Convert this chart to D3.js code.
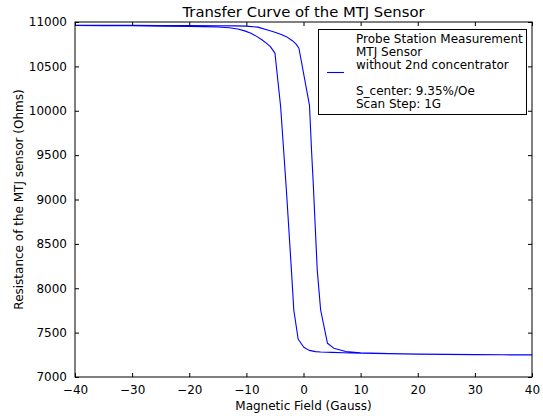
<!DOCTYPE html>
<html>
<head>
<meta charset="utf-8">
<script src="https://cdn.jsdelivr.net/npm/d3@7"></script>
<style>
  html, body { margin: 0; padding: 0; background: #fff; }
  svg { display: block; font-family: "DejaVu Sans", sans-serif; }
</style>
</head>
<body>
<svg id="chart" width="543" height="416"></svg>
<script>
// ---- Data ----
// Sweep up: field increasing from -40 G to +40 G (switches at positive field)
const fieldUp = [-40, -35, -30, -25, -20, -15, -12, -10, -8, -6, -5, -4, -3, -2, -1.3, -0.8,
                 1.05, 1.4, 1.7, 2.4, 3.0, 4.2, 5.3, 7.4, 10, 15, 20, 25, 30, 35, 40];
const resUp   = [10962, 10962, 10962, 10961, 10960, 10958, 10956, 10954, 10942, 10905, 10885, 10862, 10835, 10792, 10750, 10704,
                 10060, 9560, 9190, 8210, 7755, 7380, 7325, 7287, 7272, 7265, 7260, 7256, 7253, 7251, 7250];
// Sweep down: field decreasing from +40 G to -40 G (switches at negative field)
const fieldDown = [40, 35, 30, 25, 20, 15, 10, 7, 5, 3, 2.1, 1, 0.05, -0.93, -1.7, -2.1, -3.0, -4.0, -5.0,
                   -5.8, -6.5, -7.3, -8.2, -9.2, -10.3, -11.5, -13, -15, -20, -25, -30, -35, -40];
const resDown   = [7248, 7250, 7252, 7255, 7258, 7262, 7268, 7274, 7278, 7282, 7286, 7300, 7335, 7425, 7755, 8190, 9110, 10045, 10650,
                   10722, 10762, 10800, 10838, 10872, 10900, 10921, 10935, 10944, 10950, 10954, 10957, 10959, 10961];

const xTicks = [-40, -30, -20, -10, 0, 10, 20, 30, 40];
const yTicks = [7000, 7500, 8000, 8500, 9000, 9500, 10000, 10500, 11000];
const titleText = "Transfer Curve of the MTJ Sensor";
const xLabel = "Magnetic Field (Gauss)";
const yLabel = "Resistance of the MTJ sensor (Ohms)";
const legendLines = ["Probe Station Measurement", "MTJ Sensor", "without 2nd concentrator", "", "S_center: 9.35%/Oe", "Scan Step: 1G"];

// ---- Layout ----
const W = 543, H = 416;
const m = { left: 75, right: 532, top: 22, bottom: 377 };
const svg = d3.select("#chart");

const x = d3.scaleLinear().domain([-40, 40]).range([m.left, m.right]);
const y = d3.scaleLinear().domain([7000, 11000]).range([m.bottom, m.top]);

// Combined loop path
const pts = fieldUp.map((f, i) => [f, resUp[i]]).concat(fieldDown.map((f, i) => [f, resDown[i]]));

const clipId = "plotclip";
svg.append("clipPath").attr("id", clipId)
  .append("rect").attr("x", m.left).attr("y", m.top)
  .attr("width", m.right - m.left).attr("height", m.bottom - m.top);

const line = d3.line().x(d => x(d[0])).y(d => y(d[1]));
svg.append("path")
  .datum(pts)
  .attr("clip-path", `url(#${clipId})`)
  .attr("fill", "none")
  .attr("stroke", "#0000ff")
  .attr("stroke-width", 1.1)
  .attr("stroke-linejoin", "round")
  .attr("d", line);

// Axes with ticks inside on all four sides
const tickLen = 4;
const axB = d3.axisBottom(x).tickValues(xTicks).tickSizeInner(-tickLen).tickSizeOuter(0).tickPadding(8).tickFormat(d => d3.format("d")(d).replace("-", "\u2212"));
const axT = d3.axisTop(x).tickValues(xTicks).tickSizeInner(-tickLen).tickSizeOuter(0).tickFormat("");
const axL = d3.axisLeft(y).tickValues(yTicks).tickSizeInner(-tickLen).tickSizeOuter(0).tickPadding(8).tickFormat(d3.format("d"));
const axR = d3.axisRight(y).tickValues(yTicks).tickSizeInner(-tickLen).tickSizeOuter(0).tickFormat("");

function styleAxis(g) {
  g.select(".domain").remove();
  g.selectAll(".tick line").attr("stroke", "#000").attr("stroke-width", 1);
  g.selectAll(".tick text").attr("fill", "#000").style("font-size", "12px").style("font-family", "DejaVu Sans");
}
svg.append("g").attr("transform", `translate(0,${m.bottom})`).call(axB).call(styleAxis);
svg.append("g").attr("transform", `translate(0,${m.top})`).call(axT).call(styleAxis);
svg.append("g").attr("transform", `translate(${m.left},0)`).call(axL).call(styleAxis);
svg.append("g").attr("transform", `translate(${m.right},0)`).call(axR).call(styleAxis);

// Frame
svg.append("rect")
  .attr("x", m.left).attr("y", m.top)
  .attr("width", m.right - m.left).attr("height", m.bottom - m.top)
  .attr("fill", "none").attr("stroke", "#000").attr("stroke-width", 1);

// Title & labels
svg.append("text").attr("x", (m.left + m.right) / 2).attr("y", 17)
  .attr("text-anchor", "middle").style("font-size", "14.8px").text(titleText);
svg.append("text").attr("x", (m.left + m.right) / 2).attr("y", 410)
  .attr("text-anchor", "middle").style("font-size", "12px").text(xLabel);
svg.append("text")
  .attr("transform", `translate(23,${(m.top + m.bottom) / 2}) rotate(-90)`)
  .attr("text-anchor", "middle").style("font-size", "12px").text(yLabel);

// Legend
const lg = svg.append("g");
lg.append("rect").attr("x", 318.5).attr("y", 29.5).attr("width", 208).attr("height", 85)
  .attr("fill", "#fff").attr("stroke", "#000").attr("stroke-width", 1);
lg.append("line").attr("x1", 327).attr("x2", 344).attr("y1", 72.5).attr("y2", 72.5)
  .attr("stroke", "#0000ff").attr("stroke-width", 1.1);
legendLines.forEach((t, i) => {
  lg.append("text").attr("x", 356).attr("y", 42.5 + i * 13.1)
    .style("font-size", "12px").text(t);
});
</script>
</body>
</html>
